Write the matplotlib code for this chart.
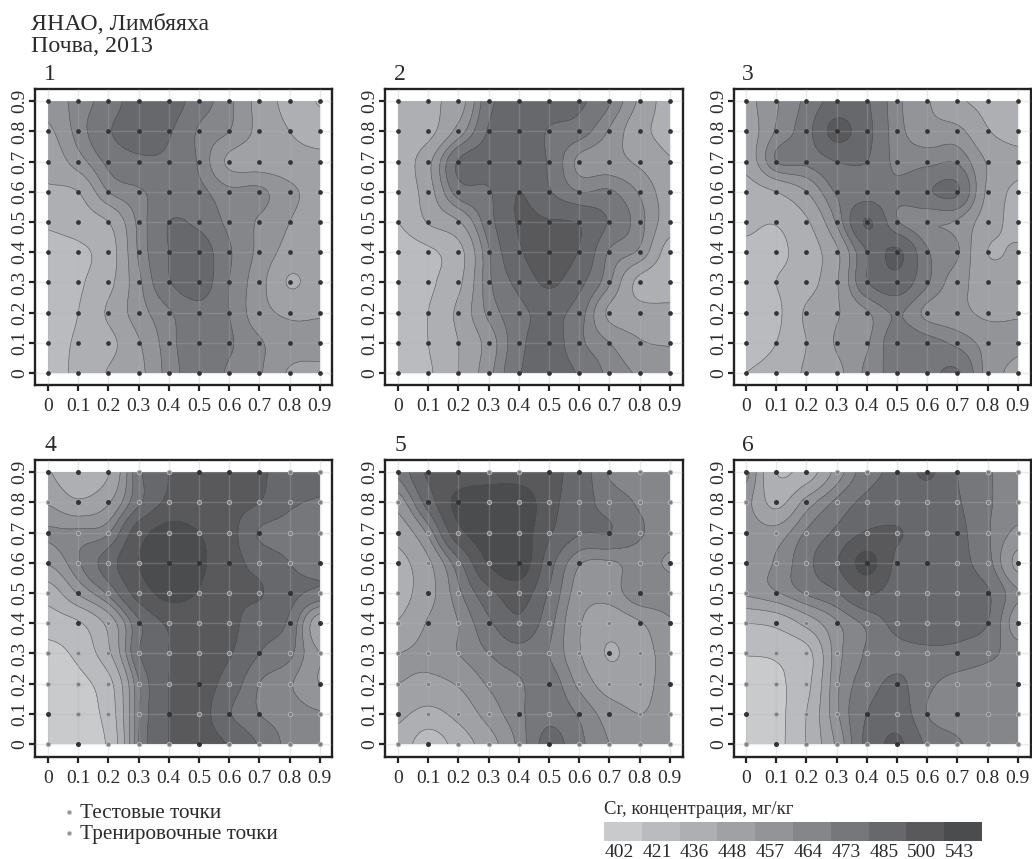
import numpy as np
import matplotlib
matplotlib.use('Agg')
import matplotlib.pyplot as plt
from matplotlib.colors import ListedColormap, BoundaryNorm
from matplotlib.lines import Line2D

plt.rcParams['font.family'] = ['Liberation Serif', 'DejaVu Serif']

W, H = 1032, 859
INK = '#2b2b2b'

coords = [0, 0.1, 0.2, 0.3, 0.4, 0.5, 0.6, 0.7, 0.8, 0.9]
tick_labels = ['0', '0.1', '0.2', '0.3', '0.4', '0.5', '0.6', '0.7', '0.8', '0.9']

# concentration at the grid nodes, first row is y=0.9, last row is y=0
panel1 = [[452, 460, 468, 478, 478, 468, 459, 444, 431, 420],
          [446, 460, 472, 478, 474, 463, 457, 445, 436, 428],
          [440, 453, 466, 471, 471, 463, 446, 443, 442, 441],
          [434, 436, 457, 463, 467, 466, 459, 459, 450, 445],
          [423, 428, 436, 459, 473, 471, 462, 456, 448, 442],
          [417, 418, 429, 458, 473, 478, 465, 455, 444, 442],
          [416, 419, 432, 455, 472, 478, 464, 452, 435, 442],
          [414, 421, 438, 453, 463, 470, 464, 452, 446, 447],
          [416, 423, 432, 447, 461, 470, 465, 458, 452, 451],
          [417, 424, 437, 445, 460, 468, 463, 458, 447, 446]]
panel2 = [[433, 434, 442, 470, 478, 480, 475, 465, 446, 430],
          [428, 432, 452, 474, 483, 472, 468, 456, 440, 432],
          [428, 445, 474, 478, 480, 472, 455, 452, 446, 437],
          [425, 443, 468, 472, 485, 474, 464, 465, 456, 442],
          [421, 437, 447, 469, 486, 486, 484, 472, 460, 442],
          [413, 418, 431, 463, 483, 492, 484, 463, 455, 430],
          [412, 418, 433, 462, 476, 487, 476, 458, 432, 428],
          [412, 421, 439, 459, 470, 476, 468, 446, 441, 440],
          [412, 421, 436, 452, 470, 478, 466, 457, 449, 447],
          [414, 419, 436, 454, 472, 478, 472, 462, 456, 455]]
panel3 = [[445, 456, 466, 477, 474, 459, 449, 438, 432, 421],
          [442, 458, 469, 489, 476, 460, 452, 451, 437, 430],
          [440, 464, 466, 473, 473, 462, 462, 463, 447, 440],
          [430, 436, 448, 465, 468, 466, 472, 474, 446, 433],
          [424, 422, 434, 458, 486, 465, 458, 456, 442, 432],
          [418, 418, 428, 446, 473, 487, 465, 458, 436, 438],
          [415, 421, 430, 447, 472, 480, 465, 452, 443, 441],
          [415, 418, 438, 447, 456, 465, 455, 451, 446, 447],
          [416, 421, 436, 449, 456, 469, 467, 462, 454, 450],
          [421, 426, 438, 445, 459, 467, 470, 474, 454, 445]]
panel4 = [[437, 424, 435, 470, 485, 490, 500, 487, 482, 477],
          [447, 438, 447, 471, 488, 490, 490, 485, 475, 472],
          [458, 459, 463, 493, 506, 500, 490, 472, 469, 467],
          [449, 463, 479, 500, 512, 503, 490, 481, 473, 470],
          [428, 449, 466, 491, 505, 499, 487, 486, 476, 471],
          [412, 419, 440, 471, 487, 490, 488, 478, 471, 440],
          [395, 407, 433, 472, 485, 490, 486, 473, 466, 448],
          [392, 396, 415, 463, 485, 490, 480, 464, 458, 448],
          [388, 392, 410, 463, 485, 490, 474, 464, 461, 458],
          [388, 392, 405, 464, 485, 490, 484, 472, 462, 464]]
panel5 = [[466, 487, 490, 492, 492, 488, 480, 463, 460, 459],
          [452, 478, 505, 512, 512, 490, 478, 469, 463, 460],
          [441, 459, 495, 510, 510, 487, 474, 473, 465, 460],
          [432, 446, 470, 501, 510, 478, 458, 456, 460, 456],
          [431, 444, 462, 481, 492, 472, 453, 452, 463, 460],
          [437, 449, 457, 471, 482, 467, 449, 441, 447, 456],
          [448, 451, 457, 464, 469, 464, 449, 435, 443, 452],
          [448, 445, 449, 458, 463, 468, 455, 443, 445, 451],
          [439, 432, 440, 452, 462, 470, 463, 453, 448, 452],
          [431, 412, 428, 443, 459, 477, 466, 457, 454, 452]]
panel6 = [[460, 421, 428, 452, 469, 476, 487, 473, 465, 460],
          [451, 432, 452, 466, 476, 478, 478, 474, 465, 461],
          [453, 452, 465, 475, 486, 486, 479, 476, 465, 455],
          [452, 458, 470, 484, 505, 482, 478, 476, 467, 445],
          [450, 456, 465, 472, 486, 479, 478, 477, 474, 458],
          [421, 425, 440, 456, 466, 476, 478, 477, 473, 452],
          [403, 405, 415, 453, 465, 470, 471, 470, 466, 461],
          [395, 398, 416, 455, 468, 475, 466, 461, 460, 459],
          [393, 396, 421, 455, 473, 480, 464, 460, 459, 458],
          [392, 396, 422, 450, 476, 487, 471, 465, 460, 459]]
panels = [panel1, panel2, panel3, panel4, panel5, panel6]

# which nodes are the dark test points in panels 4-6 (same as rows above)
test_mask = [[1, 1, 1, 0, 0, 1, 1, 1, 0, 0],
             [0, 1, 1, 0, 0, 0, 0, 0, 0, 0],
             [1, 0, 0, 0, 0, 0, 0, 1, 0, 0],
             [1, 0, 0, 0, 1, 1, 1, 0, 0, 1],
             [0, 1, 0, 0, 0, 0, 0, 0, 1, 0],
             [0, 1, 0, 1, 0, 0, 0, 0, 1, 1],
             [0, 0, 0, 0, 0, 0, 0, 1, 0, 0],
             [0, 0, 0, 0, 0, 1, 0, 0, 0, 1],
             [1, 0, 0, 0, 1, 0, 1, 1, 0, 0],
             [0, 1, 0, 0, 0, 1, 0, 0, 0, 0]]

legend_labels = [402, 421, 436, 448, 457, 464, 473, 485, 500, 543]
band_colors = ['#c9cacc', '#babbbe', '#aeafb2', '#a0a1a4', '#939497',
               '#858689', '#76777a', '#67686b', '#59595c', '#4b4c4e']
levels = [360] + legend_labels
cmap = ListedColormap(band_colors)
norm = BoundaryNorm(levels, cmap.N)

# axes boxes in picture pixels: left, top, right, bottom
boxes = [(35, 89, 332, 385), (385, 89, 683, 385), (734, 89, 1031, 385),
         (35, 460, 332, 757), (385, 460, 683, 757), (734, 460, 1031, 757)]
x0_px = [48, 398, 746, 48, 398, 746]
y0_px = [373, 373, 373, 744, 744, 744]
STEP = 30.2  # px for 0.1


def add_axes_px(l, t, r, b):
    return fig.add_axes([l / W, 1 - b / H, (r - l) / W, (b - t) / H])


def smooth(z, n=12):
    # catmull-rom through the node values, kriging surface was not piecewise linear
    z = np.asarray(z, float)
    k = z.shape[0]
    u = np.linspace(0, k - 1, (k - 1) * n + 1)
    i = np.clip(u.astype(int), 0, k - 2)
    t = u - i
    w = np.array([-0.5 * t + t**2 - 0.5 * t**3, 1 - 2.5 * t**2 + 1.5 * t**3,
                  0.5 * t + 2 * t**2 - 1.5 * t**3, -0.5 * t**2 + 0.5 * t**3])
    pad = np.pad(z, 1, mode='edge')
    out = np.zeros((len(u), len(u)))
    for a in range(4):
        for b in range(4):
            out += w[a][:, None] * w[b][None, :] * pad[np.ix_(i + a, i + b)]
    return u * 0.1, out


fig = plt.figure(figsize=(W / 100, H / 100), dpi=100, facecolor='white')

for p in range(6):
    l, t, r, b = boxes[p]
    ax = add_axes_px(l, t, r, b)
    ax.set_xlim((l - x0_px[p]) / STEP * 0.1, (r - x0_px[p]) / STEP * 0.1)
    ax.set_ylim((y0_px[p] - b) / STEP * 0.1, (y0_px[p] - t) / STEP * 0.1)
    g, z = smooth(np.flipud(np.array(panels[p])))
    ax.contourf(g, g, z, levels=levels, cmap=cmap, norm=norm, zorder=1)
    ax.contour(g, g, z, levels=legend_labels[:-1], colors='#4a4a4c',
               linewidths=0.45, alpha=0.75, zorder=2)
    ax.set_xticks(coords)
    ax.set_yticks(coords)
    ax.set_xticklabels(tick_labels)
    ax.set_yticklabels(tick_labels, rotation=90, va='center')
    ax.tick_params(length=4.3, width=1.6, color='#222222', labelsize=14,
                   labelcolor=INK)
    ax.tick_params(axis='x', pad=5)
    ax.tick_params(axis='y', pad=0.5)
    ax.grid(True, color='#b4b4b4', alpha=0.28, lw=1.0, zorder=3)
    ax.set_axisbelow(False)
    for s in ax.spines.values():
        s.set_linewidth(1.7)
        s.set_color('#222222')
    xx, yy = np.meshgrid(coords, coords[::-1])
    if p < 3:
        ax.plot(xx.ravel(), yy.ravel(), 'o', ms=3.4, color='#333335', mew=0, zorder=5,
                clip_on=False)
    else:
        m = np.array(test_mask).astype(bool)
        ax.plot(xx[~m], yy[~m], 'o', ms=3.2, mfc='#808080', mec='#b8b8b8', mew=0.6,
                zorder=5, clip_on=False)
        ax.plot(xx[m], yy[m], 'o', ms=3.6, color='#333335', mew=0, zorder=5, clip_on=False)
    fig.text((x0_px[p] + 2) / W, 1 - (t - 14) / H, str(p + 1), fontsize=17,
             ha='center', va='center', color=INK)

fig.text(31 / W, 1 - 25 / H, 'ЯНАО, Лимбяяха', fontsize=17.2, va='center', color=INK)
fig.text(31 / W, 1 - 46 / H, 'Почва, 2013', fontsize=17.2, va='center', color=INK)

# point legend
fig.add_artist(Line2D([69 / W], [1 - 812 / H], marker='o', ms=3, mfc='#909090',
                      mec='#c8c8c8', mew=0.6, ls='none'))
fig.add_artist(Line2D([69 / W], [1 - 833 / H], marker='o', ms=3, mfc='#909090',
                      mec='#c8c8c8', mew=0.6, ls='none'))
fig.text(80 / W, 1 - 814 / H, 'Тестовые точки', fontsize=15.2, va='center', color=INK)
fig.text(80 / W, 1 - 835 / H, 'Тренировочные точки', fontsize=15.2, va='center', color=INK)

# colour key
cax = add_axes_px(604, 822, 982, 841)
cax.pcolormesh([np.arange(11), np.arange(11)], [[0] * 11, [1] * 11],
               np.arange(10).reshape(1, 10), cmap=cmap, vmin=-0.5, vmax=9.5)
cax.set_yticks([])
cax.set_xticks(np.arange(10) + 0.4)
cax.set_xticklabels(legend_labels)
cax.tick_params(length=0, labelsize=14, labelcolor=INK, pad=2)
for s in cax.spines.values():
    s.set_visible(False)
fig.text(604 / W, 1 - 809 / H, 'Cr, концентрация, мг/кг', fontsize=13.5, va='center', color=INK)

fig.savefig('out.png', dpi=100)
